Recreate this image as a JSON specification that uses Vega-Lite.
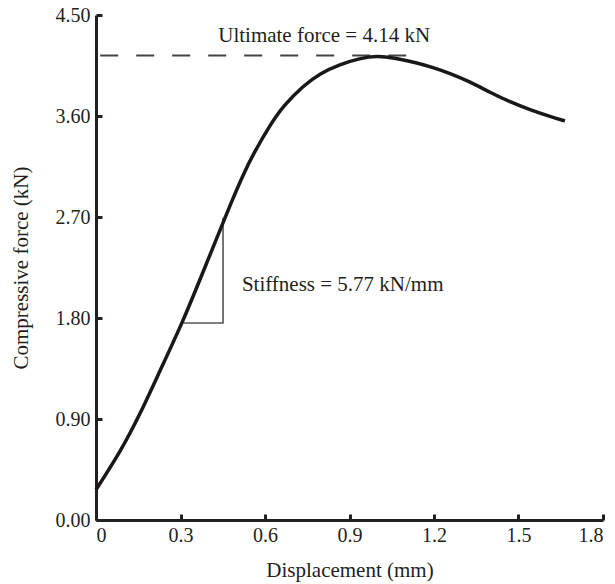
{
  "$schema": "https://vega.github.io/schema/vega-lite/v6.json",
  "width": 507,
  "height": 505,
  "autosize": {"type": "none"},
  "padding": {"left": 96, "top": 15, "right": 12, "bottom": 64},
  "background": "white",
  "config": {
    "view": {"stroke": null},
    "font": "Liberation Serif",
    "axis": {"grid": false, "domainColor": "#231f20", "domainWidth": 3, "tickColor": "#231f20", "tickWidth": 3, "tickSize": -6, "labelFont": "Liberation Serif", "labelFontSize": 20, "labelColor": "#231f20", "titleFont": "Liberation Serif", "titleFontSize": 21, "titleFontWeight": "normal", "titleColor": "#231f20"}
  },
  "datasets": {
    "curve": [
      {"d": 0.0, "f": 0.27},
      {"d": 0.085, "f": 0.6},
      {"d": 0.156, "f": 0.94},
      {"d": 0.227, "f": 1.33},
      {"d": 0.309, "f": 1.77},
      {"d": 0.38, "f": 2.21},
      {"d": 0.451, "f": 2.65},
      {"d": 0.482, "f": 2.84},
      {"d": 0.523, "f": 3.08},
      {"d": 0.558, "f": 3.26},
      {"d": 0.618, "f": 3.52},
      {"d": 0.665, "f": 3.69},
      {"d": 0.736, "f": 3.87},
      {"d": 0.795, "f": 3.98},
      {"d": 0.866, "f": 4.06},
      {"d": 0.937, "f": 4.115},
      {"d": 0.997, "f": 4.135},
      {"d": 1.056, "f": 4.12},
      {"d": 1.139, "f": 4.075},
      {"d": 1.2, "f": 4.03},
      {"d": 1.257, "f": 3.98},
      {"d": 1.328, "f": 3.905},
      {"d": 1.399, "f": 3.81},
      {"d": 1.47, "f": 3.725},
      {"d": 1.541, "f": 3.655},
      {"d": 1.612, "f": 3.595},
      {"d": 1.665, "f": 3.556}
    ],
    "ultimate": [{"d": 0.015, "f": 4.14}, {"d": 1.12, "f": 4.14}],
    "triangle": [
      {"d": 0.31, "f": 1.755, "o": 1},
      {"d": 0.451, "f": 1.755, "o": 2},
      {"d": 0.451, "f": 2.69, "o": 3}
    ],
    "label1": [{"d": 0.81, "f": 4.31, "t": "Ultimate force = 4.14 kN"}],
    "label2": [{"d": 0.518, "f": 2.09, "t": "Stiffness = 5.77 kN/mm"}]
  },
  "layer": [
    {
      "data": {"name": "triangle"},
      "mark": {"type": "line", "color": "#555555", "strokeWidth": 1.6},
      "encoding": {
        "x": {"field": "d", "type": "quantitative", "scale": {"domain": [0, 1.8]}, "axis": {"values": [0, 0.3, 0.6, 0.9, 1.2, 1.5, 1.8], "format": ".1~f", "title": "Displacement (mm)", "titlePadding": 14, "labelPadding": 11}},
        "y": {"field": "f", "type": "quantitative", "scale": {"domain": [0, 4.5]}, "axis": {"values": [0, 0.9, 1.8, 2.7, 3.6, 4.5], "format": ".2f", "title": "Compressive force (kN)", "titlePadding": 24, "labelPadding": 12}},
        "order": {"field": "o"}
      }
    },
    {
      "data": {"name": "ultimate"},
      "mark": {"type": "line", "color": "#444444", "strokeWidth": 2, "strokeDash": [18, 18]},
      "encoding": {
        "x": {"field": "d", "type": "quantitative"},
        "y": {"field": "f", "type": "quantitative"}
      }
    },
    {
      "data": {"name": "curve"},
      "mark": {"type": "line", "color": "#1a1718", "strokeWidth": 3.5, "interpolate": "basis"},
      "encoding": {
        "x": {"field": "d", "type": "quantitative"},
        "y": {"field": "f", "type": "quantitative"}
      }
    },
    {
      "data": {"name": "label1"},
      "mark": {"type": "text", "font": "Liberation Serif", "fontSize": 21, "color": "#231f20", "baseline": "middle", "align": "center"},
      "encoding": {
        "x": {"field": "d", "type": "quantitative"},
        "y": {"field": "f", "type": "quantitative"},
        "text": {"field": "t"}
      }
    },
    {
      "data": {"name": "label2"},
      "mark": {"type": "text", "font": "Liberation Serif", "fontSize": 21, "color": "#231f20", "baseline": "middle", "align": "left"},
      "encoding": {
        "x": {"field": "d", "type": "quantitative"},
        "y": {"field": "f", "type": "quantitative"},
        "text": {"field": "t"}
      }
    }
  ]
}
